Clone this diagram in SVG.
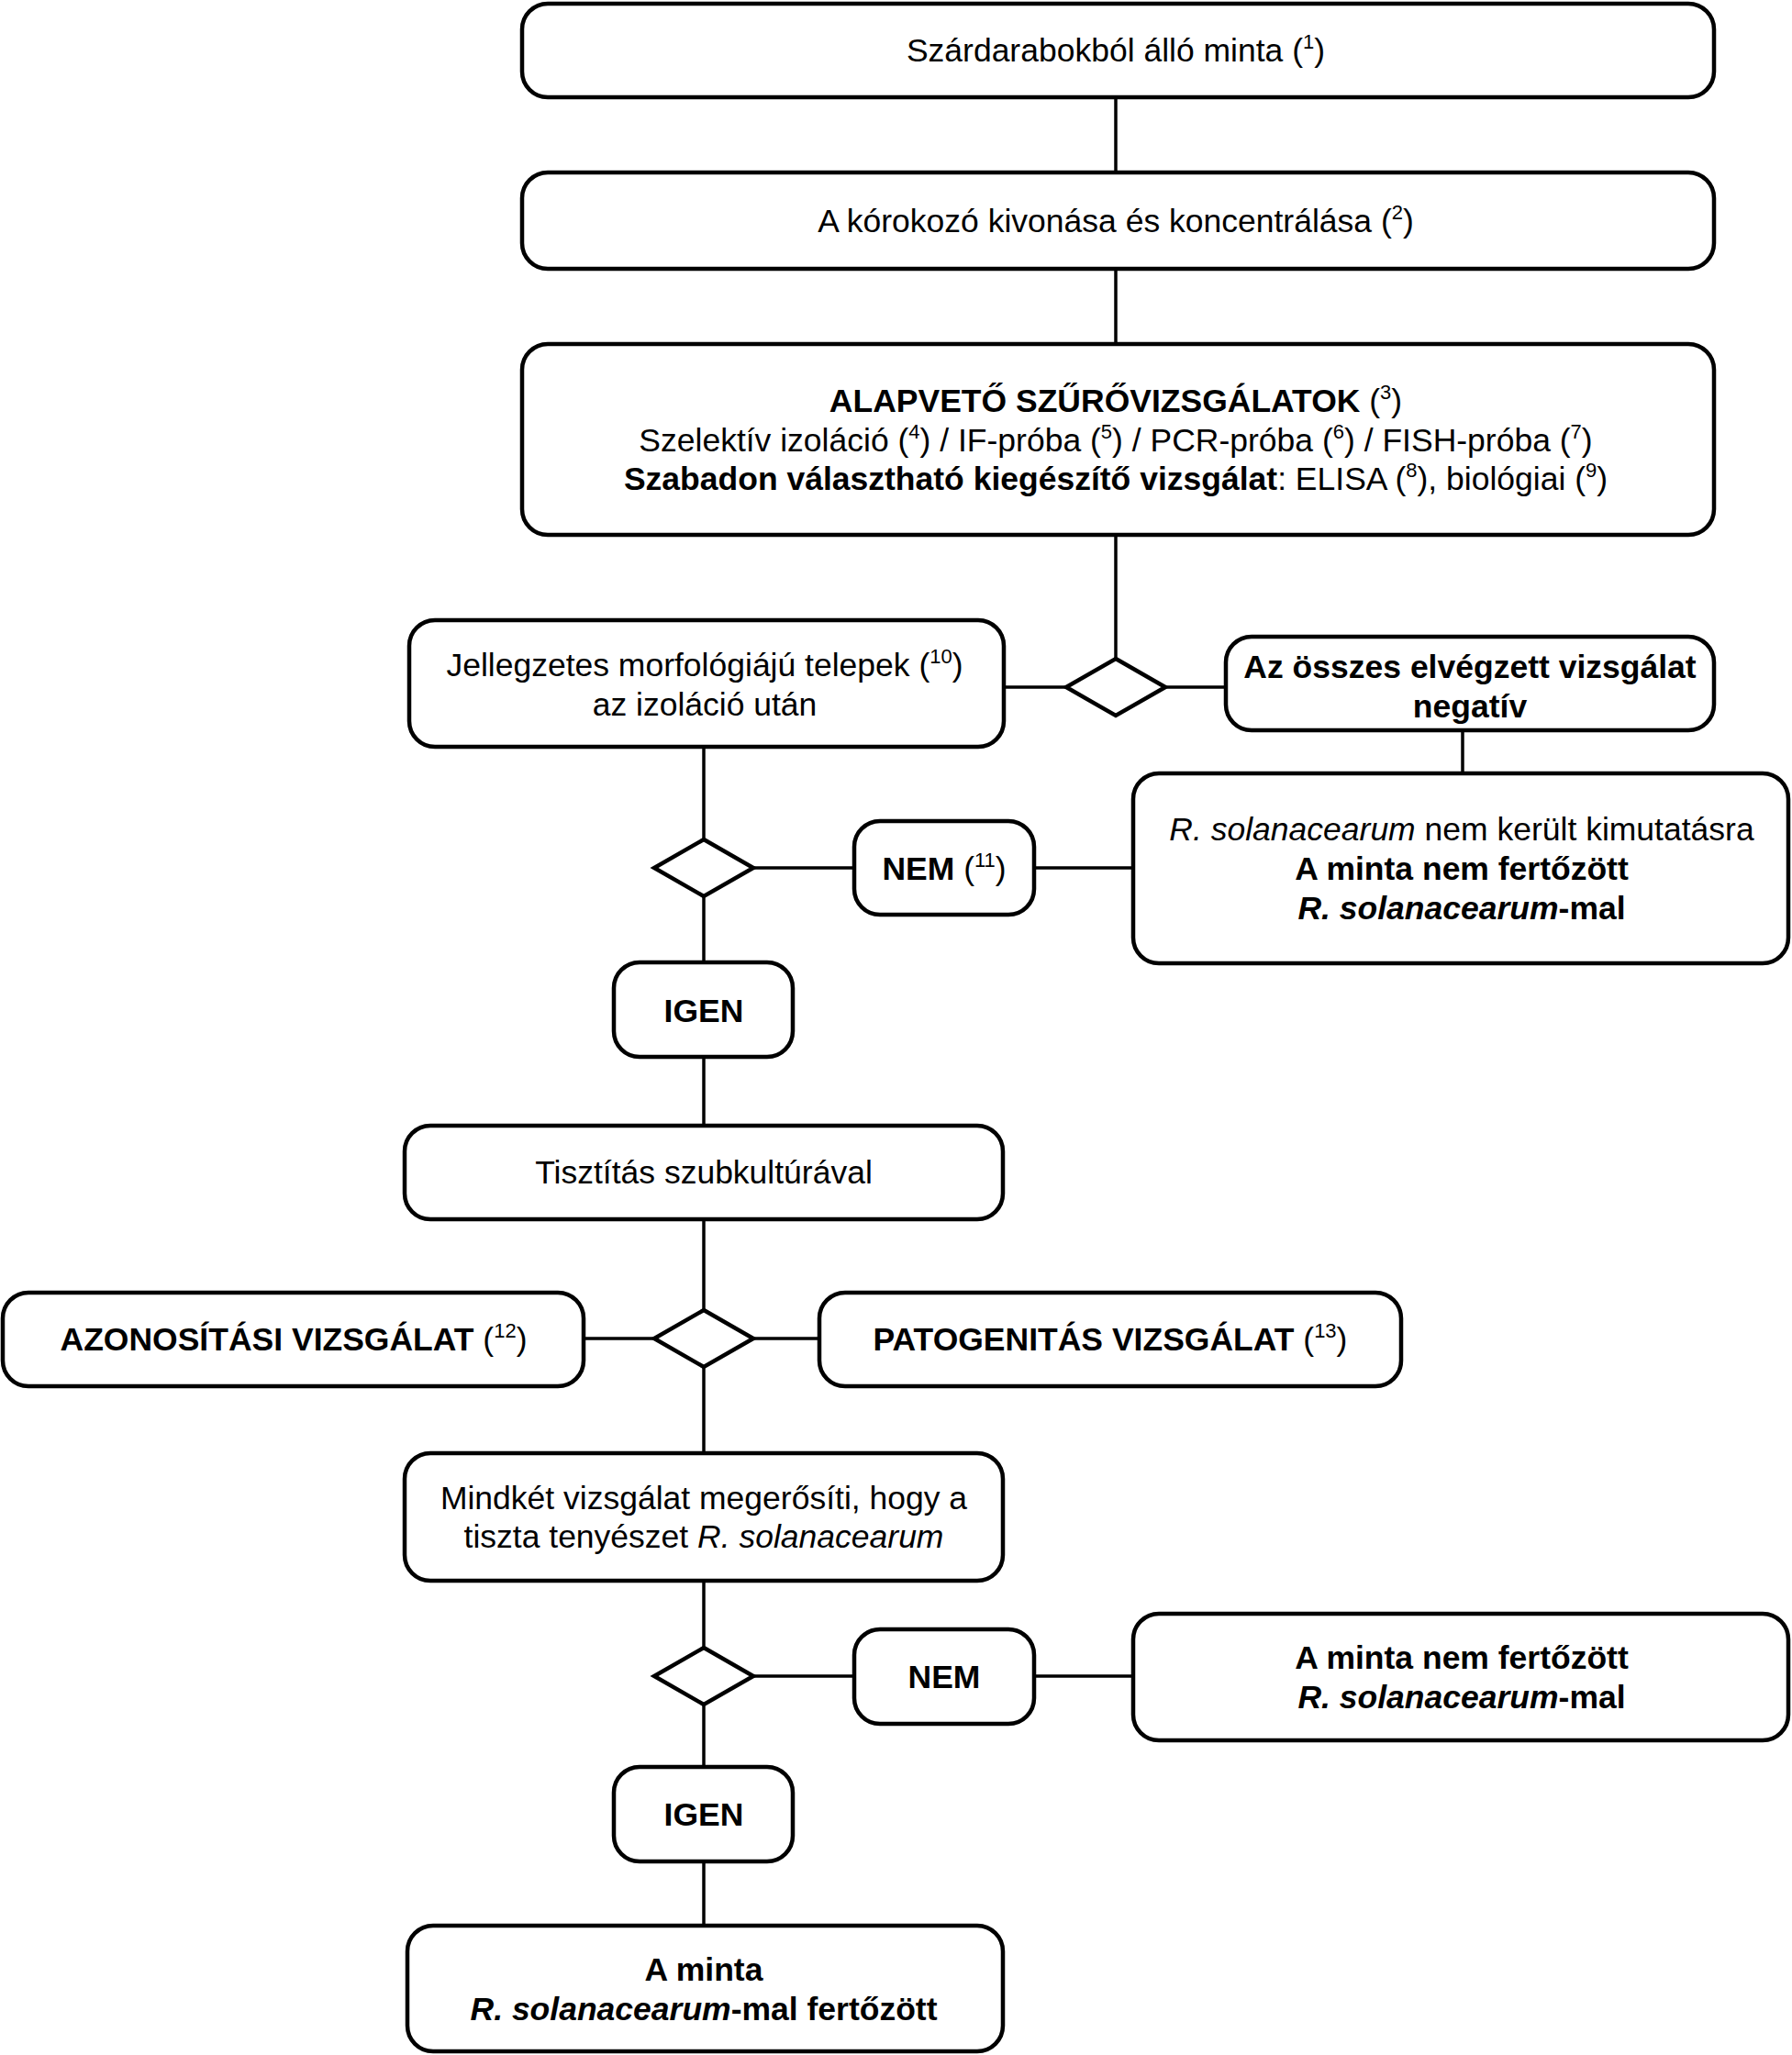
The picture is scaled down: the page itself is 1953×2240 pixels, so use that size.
<svg xmlns="http://www.w3.org/2000/svg" width="1953" height="2240" viewBox="0 0 1953 2240">
<style>
.box{fill:#fff;stroke:#000;stroke-width:4.5}
.dia{fill:#fff;stroke:#000;stroke-width:4.5}
.ln{stroke:#000;stroke-width:3.5;fill:none}
text{font-family:"Liberation Sans",Arial,Helvetica,sans-serif;font-size:35.5px;fill:#000;text-anchor:middle}
.b{font-weight:bold}
.i{font-style:italic}
.sup{font-size:22px;font-weight:normal}
</style>
<rect width="1953" height="2240" fill="#fff"/>
<g id="connectors">
<line class="ln" x1="1216" y1="106" x2="1216" y2="187"/>
<line class="ln" x1="1216" y1="293" x2="1216" y2="374"/>
<line class="ln" x1="1216" y1="583" x2="1216" y2="718"/>
<line class="ln" x1="1094" y1="749" x2="1162" y2="749"/>
<line class="ln" x1="1270" y1="749" x2="1336" y2="749"/>
<line class="ln" x1="1594" y1="796" x2="1594" y2="843"/>
<line class="ln" x1="767" y1="814" x2="767" y2="915"/>
<line class="ln" x1="821" y1="946" x2="931" y2="946"/>
<line class="ln" x1="1127" y1="946" x2="1234" y2="946"/>
<line class="ln" x1="767" y1="977" x2="767" y2="1049"/>
<line class="ln" x1="767" y1="1152" x2="767" y2="1227"/>
<line class="ln" x1="767" y1="1329" x2="767" y2="1428"/>
<line class="ln" x1="636" y1="1459" x2="713" y2="1459"/>
<line class="ln" x1="821" y1="1459" x2="893" y2="1459"/>
<line class="ln" x1="767" y1="1490" x2="767" y2="1584"/>
<line class="ln" x1="767" y1="1723" x2="767" y2="1796"/>
<line class="ln" x1="821" y1="1827" x2="931" y2="1827"/>
<line class="ln" x1="1127" y1="1827" x2="1234" y2="1827"/>
<line class="ln" x1="767" y1="1858" x2="767" y2="1926"/>
<line class="ln" x1="767" y1="2029" x2="767" y2="2099"/>
</g>
<g id="n1"><rect class="box" x="569" y="4" width="1299" height="102" rx="28"/>
<text x="1216" y="67">Szárdarabokból álló minta (<tspan class="sup" dy="-14">1</tspan><tspan dy="14">)</tspan></text></g>
<g id="n2"><rect class="box" x="569" y="188" width="1299" height="105" rx="28"/>
<text x="1216" y="253">A kórokozó kivonása és koncentrálása (<tspan class="sup" dy="-14">2</tspan><tspan dy="14">)</tspan></text></g>
<g id="n3"><rect class="box" x="569" y="375" width="1299" height="208" rx="28"/>
<text x="1216" y="449"><tspan class="b">ALAPVETŐ SZŰRŐVIZSGÁLATOK</tspan> (<tspan class="sup" dy="-14">3</tspan><tspan dy="14">)</tspan></text>
<text x="1216" y="492">Szelektív izoláció (<tspan class="sup" dy="-14">4</tspan><tspan dy="14">) / IF-próba (</tspan><tspan class="sup" dy="-14">5</tspan><tspan dy="14">) / PCR-próba (</tspan><tspan class="sup" dy="-14">6</tspan><tspan dy="14">) / FISH-próba (</tspan><tspan class="sup" dy="-14">7</tspan><tspan dy="14">)</tspan></text>
<text x="1216" y="534"><tspan class="b">Szabadon választható kiegészítő vizsgálat</tspan>: ELISA (<tspan class="sup" dy="-14">8</tspan><tspan dy="14">), biológiai (</tspan><tspan class="sup" dy="-14">9</tspan><tspan dy="14">)</tspan></text></g>
<g id="d1"><polygon class="dia" points="1216,718 1270,749 1216,780 1162,749"/></g>
<g id="n4"><rect class="box" x="446" y="676" width="648" height="138" rx="28"/>
<text x="768" y="737">Jellegzetes morfológiájú telepek (<tspan class="sup" dy="-14">10</tspan><tspan dy="14">)</tspan></text>
<text x="768" y="780">az izoláció után</text></g>
<g id="n5"><rect class="box" x="1336" y="694" width="532" height="102" rx="28"/>
<text class="b" x="1602" y="739">Az összes elvégzett vizsgálat</text>
<text class="b" x="1602" y="782">negatív</text></g>
<g id="n6"><rect class="box" x="1235" y="843" width="714" height="207" rx="28"/>
<text x="1593" y="916"><tspan class="i">R. solanacearum</tspan> nem került kimutatásra</text>
<text class="b" x="1593" y="959">A minta nem fertőzött</text>
<text class="b" x="1593" y="1002"><tspan class="i">R. solanacearum</tspan>-mal</text></g>
<g id="d2"><polygon class="dia" points="767,915 821,946 767,977 713,946"/></g>
<g id="n7"><rect class="box" x="931" y="895" width="196" height="102" rx="28"/>
<text x="1029" y="959"><tspan class="b">NEM</tspan> (<tspan class="sup" dy="-14">11</tspan><tspan dy="14">)</tspan></text></g>
<g id="n8"><rect class="box" x="669" y="1049" width="195" height="103" rx="28"/>
<text class="b" x="767" y="1114">IGEN</text></g>
<g id="n9"><rect class="box" x="441" y="1227" width="652" height="102" rx="28"/>
<text x="767" y="1290">Tisztítás szubkultúrával</text></g>
<g id="d3"><polygon class="dia" points="767,1428 821,1459 767,1490 713,1459"/></g>
<g id="n10"><rect class="box" x="3" y="1409" width="633" height="102" rx="28"/>
<text x="320" y="1472"><tspan class="b">AZONOSÍTÁSI VIZSGÁLAT</tspan> (<tspan class="sup" dy="-14">12</tspan><tspan dy="14">)</tspan></text></g>
<g id="n11"><rect class="box" x="893" y="1409" width="634" height="102" rx="28"/>
<text x="1210" y="1472"><tspan class="b">PATOGENITÁS VIZSGÁLAT</tspan> (<tspan class="sup" dy="-14">13</tspan><tspan dy="14">)</tspan></text></g>
<g id="n12"><rect class="box" x="441" y="1584" width="652" height="139" rx="28"/>
<text x="767" y="1645">Mindkét vizsgálat megerősíti, hogy a</text>
<text x="767" y="1687">tiszta tenyészet <tspan class="i">R. solanacearum</tspan></text></g>
<g id="d4"><polygon class="dia" points="767,1796 821,1827 767,1858 713,1827"/></g>
<g id="n13"><rect class="box" x="931" y="1776" width="196" height="103" rx="28"/>
<text class="b" x="1029" y="1840">NEM</text></g>
<g id="n14"><rect class="box" x="1235" y="1759" width="714" height="138" rx="28"/>
<text class="b" x="1593" y="1819">A minta nem fertőzött</text>
<text class="b" x="1593" y="1862"><tspan class="i">R. solanacearum</tspan>-mal</text></g>
<g id="n15"><rect class="box" x="669" y="1926" width="195" height="103" rx="28"/>
<text class="b" x="767" y="1990">IGEN</text></g>
<g id="n16"><rect class="box" x="444" y="2099" width="649" height="137" rx="28"/>
<text class="b" x="767" y="2159">A minta</text>
<text class="b" x="767" y="2202"><tspan class="i">R. solanacearum</tspan>-mal fertőzött</text></g>
</svg>
